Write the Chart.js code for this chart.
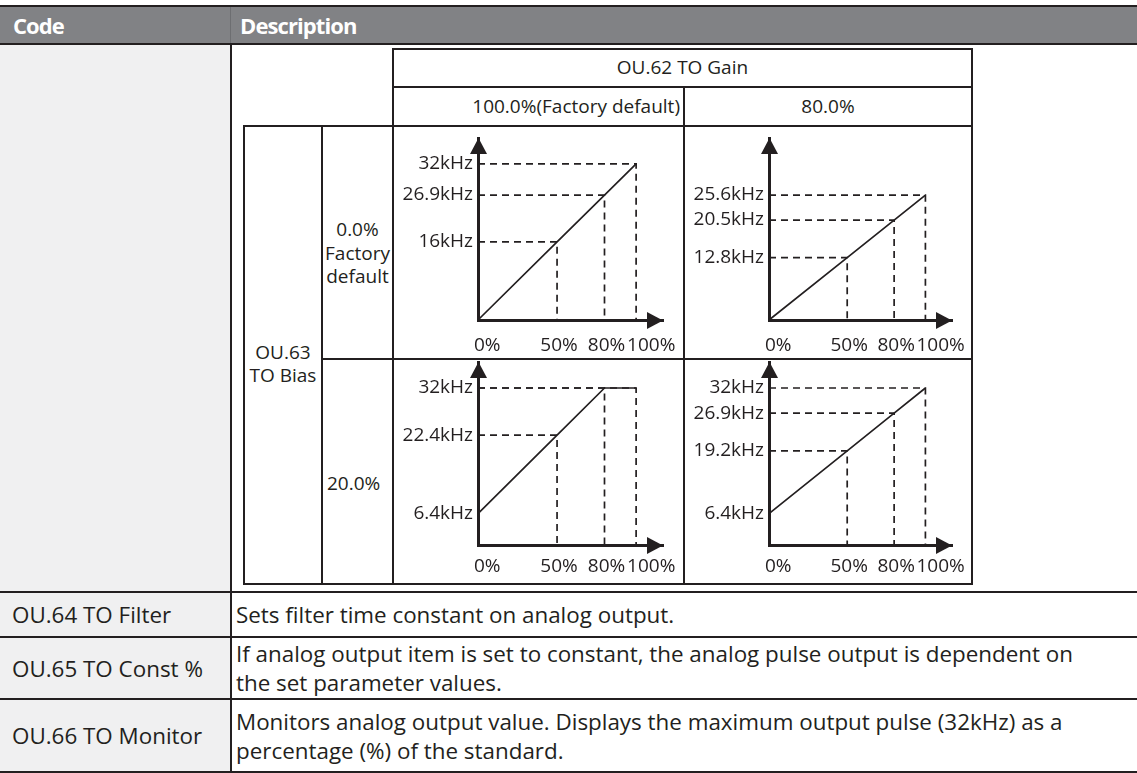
<!DOCTYPE html>
<html>
<head>
<meta charset="utf-8">
<script src="https://cdn.jsdelivr.net/npm/chart.js@4.4.1/dist/chart.umd.min.js"></script>
<style>
  html, body { margin: 0; padding: 0; background: #fff; }
  body { width: 1137px; height: 773px; position: relative; overflow: hidden;
         font-family: 'Open Sans', sans-serif; color: #231f20; }
  .ln { position: absolute; background: #231f20; z-index: 3; }
  .txt { position: absolute; display: flex; align-items: center; white-space: nowrap; z-index: 2; }
  .hd { color: #fff; font-weight: 700; font-size: 22px; letter-spacing: -0.9px; }
  .body { font-size: 22.4px; line-height: 29px; }
  .cell { font-size: 19px; line-height: 23.5px; }
  canvas { position: absolute; z-index: 1; }
</style>
</head>
<body>
<!-- outer table -->
<div class="ln" style="left:0;top:5px;width:1137px;height:2px"></div>
<div style="position:absolute;left:0;top:7px;width:1137px;height:36px;background:#818285"></div>
<div style="position:absolute;left:230px;top:7px;width:1px;height:36px;background:#6d6e71"></div>
<div class="ln" style="left:0;top:43px;width:1137px;height:2px"></div>
<div style="position:absolute;left:0;top:45px;width:230px;height:728px;background:#f0f0f1"></div>
<div class="ln" style="left:230px;top:45px;width:2px;height:728px"></div>
<div class="ln" style="left:0;top:591px;width:1137px;height:2px"></div>
<div class="ln" style="left:0;top:636px;width:1137px;height:2px"></div>
<div class="ln" style="left:0;top:698px;width:1137px;height:2px"></div>
<div class="ln" style="left:0;top:771px;width:1137px;height:2px"></div>

<div class="txt hd" style="left:13px;top:7px;height:36px">Code</div>
<div class="txt hd" style="left:240px;top:7px;height:36px">Description</div>

<!-- inner table -->
<div class="ln" style="left:392px;top:48px;width:581px;height:2px"></div>
<div class="ln" style="left:392px;top:86px;width:581px;height:2px"></div>
<div class="ln" style="left:243px;top:125px;width:730px;height:2px"></div>
<div class="ln" style="left:321px;top:358px;width:652px;height:2px"></div>
<div class="ln" style="left:243px;top:583px;width:730px;height:2px"></div>
<div class="ln" style="left:243px;top:125px;width:2px;height:460px"></div>
<div class="ln" style="left:321px;top:125px;width:2px;height:460px"></div>
<div class="ln" style="left:392px;top:48px;width:2px;height:537px"></div>
<div class="ln" style="left:683px;top:86px;width:2px;height:499px"></div>
<div class="ln" style="left:971px;top:48px;width:2px;height:537px"></div>

<div class="txt cell" style="left:394px;top:50px;width:577px;height:36px;justify-content:center">OU.62 TO Gain</div>
<div class="txt cell" id="gain0" style="left:394px;top:88px;width:286px;height:37px;justify-content:flex-end"></div>
<div class="txt cell" id="gain1" style="left:685px;top:88px;width:286px;height:37px;justify-content:center"></div>
<div class="txt cell" style="left:245px;top:127px;width:76px;height:456px;justify-content:center;text-align:center;padding-top:18px;box-sizing:border-box">OU.63<br>TO Bias</div>
<div class="txt cell" id="bias0" style="left:323px;top:127px;width:69px;height:231px;justify-content:center;text-align:center;padding-top:22px;box-sizing:border-box"></div>
<div class="txt cell" id="bias1" style="left:327px;top:360px;width:65px;height:223px;padding-top:24px;box-sizing:border-box"></div>

<canvas id="cTL" width="291" height="233" style="left:393px;top:126px"></canvas>
<canvas id="cTR" width="288" height="233" style="left:684px;top:126px"></canvas>
<canvas id="cBL" width="291" height="225" style="left:393px;top:359px"></canvas>
<canvas id="cBR" width="288" height="225" style="left:684px;top:359px"></canvas>

<!-- remaining rows -->
<div class="txt body" style="left:12px;top:593px;height:43px">OU.64 TO Filter</div>
<div class="txt body" style="left:236px;top:593px;height:43px">Sets filter time constant on analog output.</div>
<div class="txt body" style="left:12px;top:638px;height:60px">OU.65 TO Const %</div>
<div class="txt body" style="left:236px;top:638px;height:60px">If analog output item is set to constant, the analog pulse output is dependent on<br>the set parameter values.</div>
<div class="txt body" style="left:12px;top:700px;height:71px">OU.66 TO Monitor</div>
<div class="txt body" style="left:236px;top:700px;height:71px">Monitors analog output value. Displays the maximum output pulse (32kHz) as a<br>percentage (%) of the standard.</div>

<script>
const INK = '#231f20';

// column / row headings
const gainLabels = ['100.0%(Factory default)', '80.0%'];
const biasLabels = ['0.0%<br>Factory<br>default', '20.0%'];

// input (x, %) and output (y, kHz)
const inputPct = [0, 50, 80, 100];
const xTickLabels = ['0%', '50%', '80%', '100%'];

const outGain100Bias0 = [0, 16, 25.6, 32];
const outGain80Bias0 = [0, 12.8, 20.48, 25.6];
const outGain100Bias20 = [6.4, 22.4, 32, 32];
const outGain80Bias20 = [6.4, 19.2, 26.88, 32];

const yTicksGain100Bias0 = [16, 25.6, 32];
const yLabelsGain100Bias0 = ['16kHz', '26.9kHz', '32kHz'];
const yTicksGain80Bias0 = [12.8, 20.48, 25.6];
const yLabelsGain80Bias0 = ['12.8kHz', '20.5kHz', '25.6kHz'];
const yTicksGain100Bias20 = [6.4, 22.4, 32];
const yLabelsGain100Bias20 = ['6.4kHz', '22.4kHz', '32kHz'];
const yTicksGain80Bias20 = [6.4, 19.2, 26.88, 32];
const yLabelsGain80Bias20 = ['6.4kHz', '19.2kHz', '26.9kHz', '32kHz'];

document.getElementById('gain0').textContent = gainLabels[0];
document.getElementById('gain1').textContent = gainLabels[1];
document.getElementById('bias0').innerHTML = biasLabels[0];
document.getElementById('bias1').innerHTML = biasLabels[1];

// arrow heads at the ends of both axes
const axisArrows = {
  id: 'axisArrows',
  afterDraw(chart) {
    const { ctx, chartArea: a } = chart;
    const x0 = a.left + 0.5;
    const y0 = a.bottom + 0.5;
    ctx.save();
    ctx.fillStyle = INK;
    ctx.beginPath();
    ctx.moveTo(x0, a.top);
    ctx.lineTo(x0 - 8.5, a.top + 16);
    ctx.lineTo(x0 + 8.5, a.top + 16);
    ctx.closePath();
    ctx.fill();
    ctx.beginPath();
    ctx.moveTo(a.right, y0);
    ctx.lineTo(a.right - 16, y0 - 8.5);
    ctx.lineTo(a.right - 16, y0 + 8.5);
    ctx.closePath();
    ctx.fill();
    ctx.restore();
  }
};

// x labels sit under the axis like a line of text: 0% and 100% start near their tick
const xLabels = {
  id: 'xLabels',
  afterDraw(chart, args, opts) {
    const { ctx, chartArea: a, scales: { x } } = chart;
    ctx.save();
    ctx.font = '19px "Open Sans"';
    ctx.fillStyle = INK;
    ctx.textBaseline = 'middle';
    const y = a.bottom + opts.gap;
    inputPct.forEach((v, i) => {
      const px = x.getPixelForValue(v);
      if (i === 0) {
        ctx.textAlign = 'left';
        ctx.fillText(xTickLabels[i], px - 4, y);
      } else if (i === inputPct.length - 1) {
        ctx.textAlign = 'left';
        ctx.fillText(xTickLabels[i], px - 9, y);
      } else {
        ctx.textAlign = 'center';
        ctx.fillText(xTickLabels[i], px + 2, y);
      }
    });
    ctx.restore();
  }
};

function makeGraph(id, out, yTicks, yLabels, top, labelGap) {
  const line = inputPct.map((v, i) => ({ x: v, y: out[i] }));
  const guides = [];
  for (let i = 1; i < inputPct.length; i++) {
    guides.push({
      data: [{ x: 0, y: out[i] }, { x: inputPct[i], y: out[i] }, { x: inputPct[i], y: 0 }],
      borderColor: INK,
      borderWidth: 1.7,
      borderDash: [7, 5],
      pointRadius: 0,
    });
  }
  const canvas = document.getElementById(id);
  return new Chart(canvas, {
    type: 'line',
    data: {
      datasets: [
        ...guides,
        { data: line, borderColor: INK, borderWidth: 1.7, pointRadius: 0, tension: 0 },
      ],
    },
    options: {
      responsive: false,
      animation: false,
      events: [],
      clip: false,
      layout: { padding: { left: 0, top, right: canvas.width - 270 + (canvas.width === 288 ? 2 : 0), bottom: 39 } },
      plugins: { legend: { display: false }, tooltip: { enabled: false }, xLabels: { gap: labelGap } },
      scales: {
        x: {
          type: 'linear',
          min: 0,
          max: 117,
          grid: { display: false, drawTicks: false },
          border: { display: true, color: INK, width: 3 },
          ticks: { display: false },
          afterFit(s) { s.height = 0; s.paddingLeft = 0; s.paddingRight = 0; },
        },
        y: {
          type: 'linear',
          min: 0,
          max: 37.3,
          grid: { display: false, drawTicks: false },
          border: { display: true, color: INK, width: 3 },
          afterBuildTicks(s) { s.ticks = yTicks.map(v => ({ value: v })); },
          ticks: {
            autoSkip: false,
            padding: 5,
            color: INK,
            font: { family: 'Open Sans', size: 19 },
            callback: (v, i) => yLabels[i],
          },
          afterFit(s) { s.width = 85; s.paddingTop = 0; s.paddingBottom = 0; },
        },
      },
    },
    plugins: [axisArrows, xLabels],
  });
}

makeGraph('cTL', outGain100Bias0, yTicksGain100Bias0, yLabelsGain100Bias0, 12, 26);
makeGraph('cTR', outGain80Bias0, yTicksGain80Bias0, yLabelsGain80Bias0, 12, 26);
makeGraph('cBL', outGain100Bias20, yTicksGain100Bias20, yLabelsGain100Bias20, 3, 22);
makeGraph('cBR', outGain80Bias20, yTicksGain80Bias20, yLabelsGain80Bias20, 3, 22);
</script>
</body>
</html>
